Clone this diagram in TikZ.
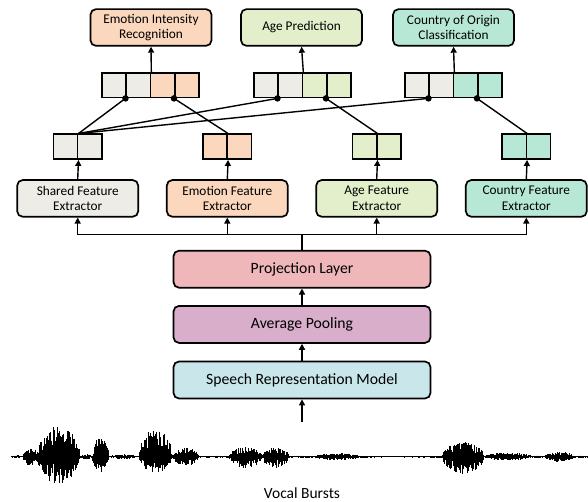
\documentclass[tikz,border=0pt]{standalone}
\usepackage{fontspec}
\setmainfont{Carlito}
\usetikzlibrary{arrows.meta}
\definecolor{cgrey}{HTML}{EDECE7}
\definecolor{cpeach}{HTML}{FAD7BD}
\definecolor{cgreen}{HTML}{E2EFCA}
\definecolor{cmint}{HTML}{B6E8D5}
\definecolor{cproj}{HTML}{EFB7B9}
\definecolor{cpool}{HTML}{D9AECB}
\definecolor{cspeech}{HTML}{C9E6EA}
\begin{document}
\begin{tikzpicture}[x=1pt,y=-1pt,
  box/.style={draw=black, line width=1.7pt, rounded corners=5.5pt, align=center, inner sep=0pt},
  smallbox/.style={box, minimum width=121pt, minimum height=36.7pt, font=\fontsize{13.3}{15.5}\selectfont},
  bigbox/.style={box, minimum width=257pt, minimum height=37pt, font=\fontsize{15.7}{18}\selectfont},
  cell/.style={draw=black, line width=1.6pt, minimum width=24.25pt, minimum height=24.8pt, inner sep=0pt},
  conn/.style={line width=1.4pt},
  arr/.style={conn, -{Triangle[length=6pt,width=6pt]}},
  dotmark/.style={circle, fill=black, inner sep=0pt, minimum size=6.5pt},
  wave/.style={line width=0.45pt, black},
]
\useasboundingbox (0,0) rectangle (588,502);

% top task boxes
\node[smallbox, fill=cpeach] (eir) at (151,27.5) {Emotion Intensity\\Recognition};
\node[smallbox, fill=cgreen] (ap) at (301.5,27.5) {Age Prediction};
\node[smallbox, fill=cmint] (coc) at (453.5,27.5) {Country of Origin\\Classification};

% 4-cell vectors
\node[cell, fill=cgrey]  (e1) at (114.1,85.2) {};
\node[cell, fill=cgrey]  (e2) at (138.4,85.2) {};
\node[cell, fill=cpeach] (e3) at (162.6,85.2) {};
\node[cell, fill=cpeach] (e4) at (186.9,85.2) {};
\node[cell, fill=cgrey]  (a1) at (266.1,85.2) {};
\node[cell, fill=cgrey]  (a2) at (290.4,85.2) {};
\node[cell, fill=cgreen] (a3) at (314.6,85.2) {};
\node[cell, fill=cgreen] (a4) at (338.9,85.2) {};
\node[cell, fill=cgrey]  (c1) at (417.1,85.2) {};
\node[cell, fill=cgrey]  (c2) at (441.4,85.2) {};
\node[cell, fill=cmint]  (c3) at (465.6,85.2) {};
\node[cell, fill=cmint]  (c4) at (489.9,85.2) {};

% extractors
\node[smallbox, fill=cgrey]  (shx) at (77.7,198.4) {Shared Feature\\Extractor};
\node[smallbox, fill=cpeach] (emx) at (227.3,198.4) {Emotion Feature\\Extractor};
\node[smallbox, fill=cgreen] (agx) at (376.7,198.4) {Age Feature\\Extractor};
\node[smallbox, fill=cmint]  (cox) at (526.3,198.4) {Country Feature\\Extractor};

% 2-cell vectors
\node[cell, fill=cgrey]  (s1) at (65.58,146.7) {};
\node[cell, fill=cgrey]  (s2) at (89.82,146.7) {};
\node[cell, fill=cpeach] (m1) at (215.18,146.7) {};
\node[cell, fill=cpeach] (m2) at (239.42,146.7) {};
\node[cell, fill=cgreen] (g1) at (364.58,146.7) {};
\node[cell, fill=cgreen] (g2) at (388.82,146.7) {};
\node[cell, fill=cmint]  (k1) at (514.18,146.7) {};
\node[cell, fill=cmint]  (k2) at (538.42,146.7) {};

% central boxes
\node[bigbox, fill=cproj]   (proj) at (302,269.2) {Projection Layer};
\node[bigbox, fill=cpool]   (pool) at (302,324.4) {Average Pooling};
\node[bigbox, fill=cspeech] (sp)   at (302,380) {Speech Representation Model};

\node[font=\fontsize{15.5}{18}\selectfont] (vb) at (302,493) {Vocal Bursts};

% arrows vector -> task
\draw[arr] (e2.north east) -- (eir.south);
\draw[arr] (a2.north east) -- (ap.south);
\draw[arr] (c2.north east) -- (coc.south);

% extractor -> vector
\draw[arr] (shx.north) -- (s1.south east);
\draw[arr] (emx.north) -- (m1.south east);
\draw[arr] (agx.north) -- (g1.south east);
\draw[arr] (cox.north) -- (k1.south east);

% connections to dots
\draw[conn] (s1.north east) -- (e2.south west);
\draw[conn] (s1.north east) -- (a2.south west);
\draw[conn] (s1.north east) -- (c2.south west);
\draw[conn] (m1.north east) -- (e4.south west);
\draw[conn] (g1.north east) -- (a4.south west);
\draw[conn] (k1.north east) -- (c4.south west);
\foreach \d in {e2,e4,a2,a4,c2,c4}{
  \node[dotmark] at (\d.south west) {};
}

% bus
\coordinate (busL) at (77.7,234.3);
\draw[arr] (proj.north) -- (proj.north |- busL) -| (shx.south);
\draw[arr] (proj.north |- busL) -| (cox.south);
\draw[arr] (emx.south |- busL) -- (emx.south);
\draw[arr] (agx.south |- busL) -- (agx.south);

\draw[arr] (pool.north) -- (proj.south);
\draw[arr] (sp.north) -- (pool.south);
\coordinate (wv) at (302,422);
\draw[arr] (wv) -- (sp.south);

% waveform
\pgfmathsetseed{11}
\draw[line width=0.6pt] (11,456.7) -- (588,456.7);
\foreach \xa/\xb/\au/\ad in {11/22.5/1.5/1.5, 22.5/38/9/10, 37/80/31/28, 80/92/3/3, 92/109/20/15, 109/136/2.5/2.5, 139/172/28/17, 172/199/9/9, 199/229/1.2/1.2, 229/262/10/12, 262/289/9/11, 289/313/1.2/1.2, 313/360/3.5/3.5, 360/442/0.8/0.8, 442/484/15/18, 484/532/4/4, 532/544/1.2/1.2, 544/574/5/5, 574/588/1.2/1.2}{
  \pgfmathtruncatemacro\n{(\xb-\xa)/0.45}
  \foreach \i in {0,...,\n}{
    \pgfmathsetmacro\t{\i/\n}
    \pgfmathsetmacro\env{sqrt(abs(sin(180*\t)))}
    \pgfmathsetmacro\hu{\au*\env*(0.2+0.8*rnd)}
    \pgfmathsetmacro\hd{\ad*\env*(0.2+0.8*rnd)}
    \draw[wave] (\xa+\xb*\t-\xa*\t, 456.7-\hu) -- ++(0, \hu+\hd);
  }
}
\end{tikzpicture}
\end{document}
